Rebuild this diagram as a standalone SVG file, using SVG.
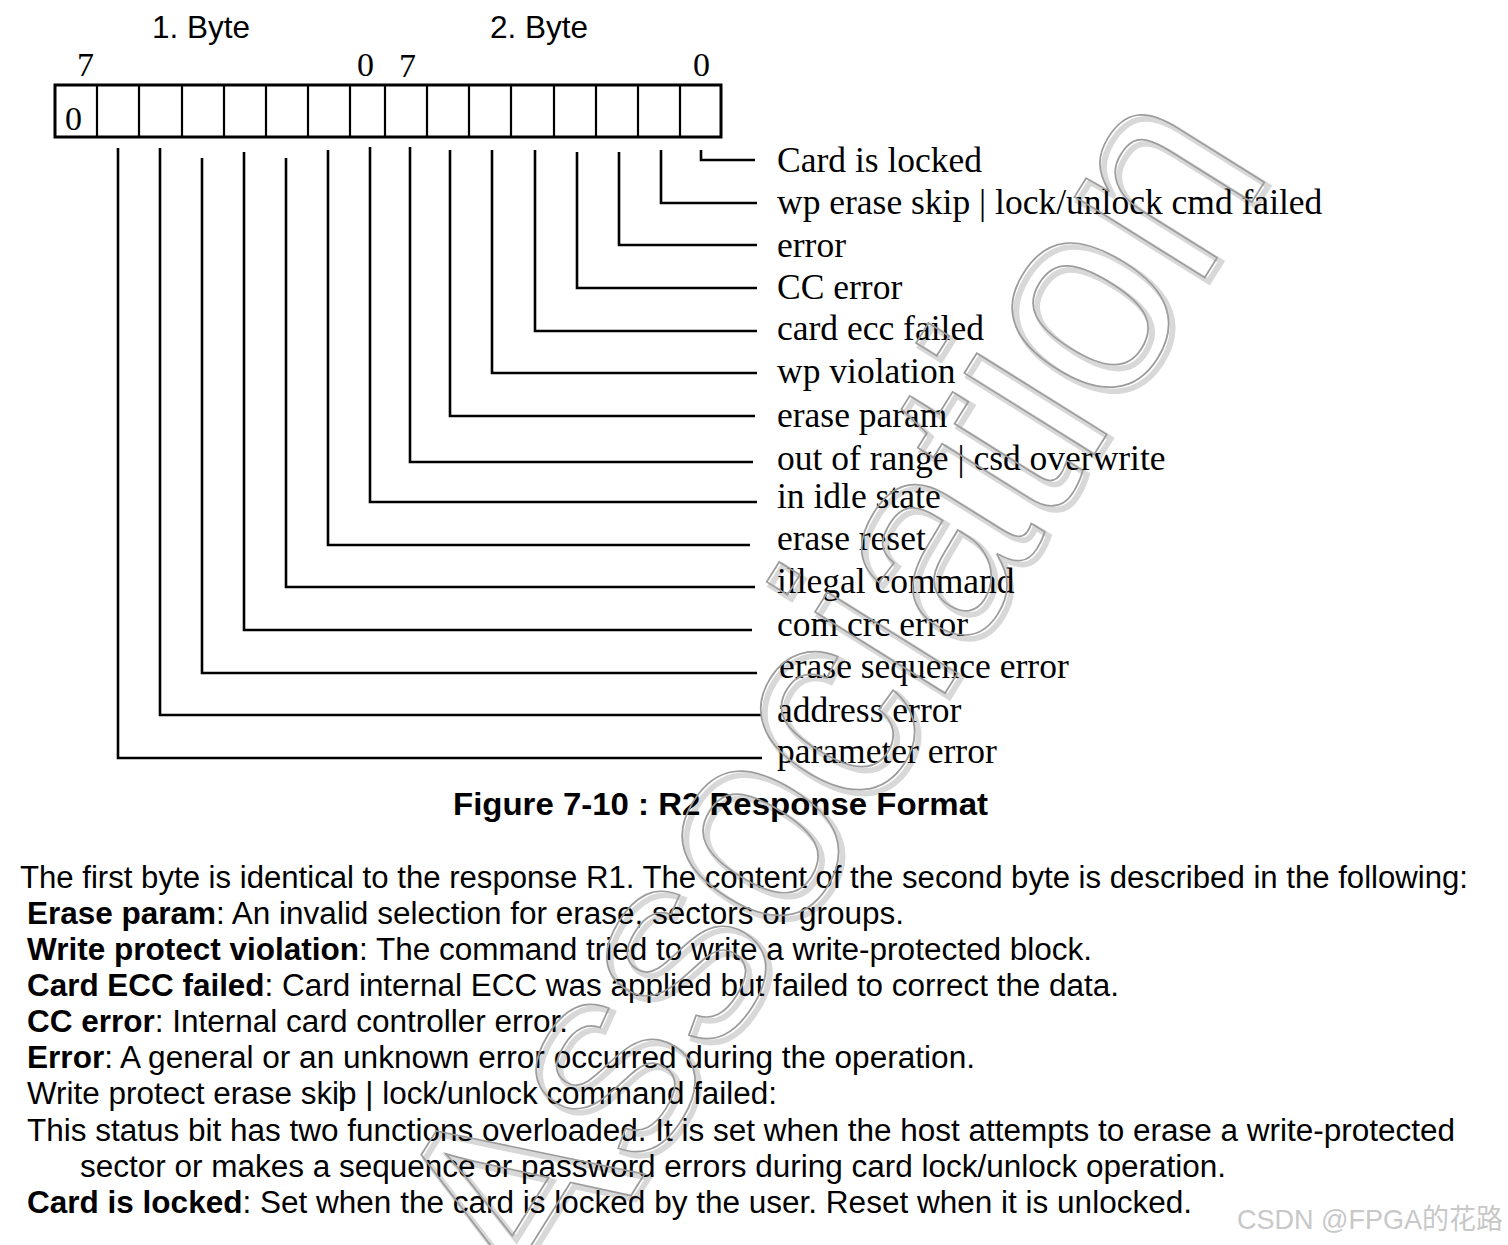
<svg xmlns="http://www.w3.org/2000/svg" width="1508" height="1245" viewBox="0 0 1508 1245">
<style>
.hdr{font-family:"Liberation Sans",Arial,sans-serif;font-size:31.5px;fill:#000}
.bit{font-family:"Liberation Serif","Times New Roman",serif;font-size:34px;fill:#000}
.lbl{font-family:"Liberation Serif","Times New Roman",serif;font-size:35.5px;fill:#000}
.body{font-family:"Liberation Sans",Arial,sans-serif;font-size:31px;fill:#000}
.b{font-weight:bold}
.title{font-family:"Liberation Sans",Arial,sans-serif;font-size:32px;font-weight:bold;fill:#000}
.conn{stroke:#000;stroke-width:2.6;fill:none}
.cell{stroke:#000;stroke-width:2.2}
.wm{font-family:"Liberation Sans",Arial,sans-serif;font-size:290px;fill:none}
</style>
<rect width="1508" height="1245" fill="#fff"/>

<g id="watermark-shadow">
<text class="wm" text-anchor="middle" transform="translate(916,750) rotate(-58) scale(0.92,1)" stroke="#d8d8d8" stroke-width="6">Association</text>
</g>

<g id="header">
<text class="hdr" x="152" y="38">1. Byte</text>
<text class="hdr" x="490" y="38">2. Byte</text>
<text class="bit" x="77" y="76">7</text>
<text class="bit" x="357" y="76">0</text>
<text class="bit" x="399" y="77">7</text>
<text class="bit" x="693" y="76">0</text>
</g>

<g id="register">
<rect x="55" y="85" width="666" height="52" fill="#fff" stroke="#000" stroke-width="3"/>
<path class="cell" d="M97 85V137M139 85V137M182 85V137M224 85V137M266 85V137M308 85V137M350 85V137M385 85V137M427 85V137M469 85V137M511 85V137M554 85V137M596 85V137M638 85V137M680 85V137"/>
<text class="bit" x="65" y="130">0</text>
</g>

<g id="connectors">
<path class="conn" d="M701 150V160H755"/>
<path class="conn" d="M661 150V203H757"/>
<path class="conn" d="M619 152V245H757"/>
<path class="conn" d="M577 152V288H757"/>
<path class="conn" d="M535 150V331H757"/>
<path class="conn" d="M492 150V373H757"/>
<path class="conn" d="M450 150V416H755"/>
<path class="conn" d="M410 147V462H753"/>
<path class="conn" d="M370 147V502H757"/>
<path class="conn" d="M328 150V545H750"/>
<path class="conn" d="M286 158V587H755"/>
<path class="conn" d="M244 152V630H752"/>
<path class="conn" d="M202 158V673H757"/>
<path class="conn" d="M160 148V715H762"/>
<path class="conn" d="M118 148V758H762"/>
</g>

<g id="labels">
<text class="lbl" x="777" y="172">Card is locked</text>
<text class="lbl" x="777" y="214">wp erase skip | lock/unlock cmd failed</text>
<text class="lbl" x="777" y="257">error</text>
<text class="lbl" x="777" y="299">CC error</text>
<text class="lbl" x="777" y="340">card ecc failed</text>
<text class="lbl" x="777" y="383">wp violation</text>
<text class="lbl" x="777" y="427">erase param</text>
<text class="lbl" x="777" y="470">out of range | csd overwrite</text>
<text class="lbl" x="777" y="508">in idle state</text>
<text class="lbl" x="777" y="550">erase reset</text>
<text class="lbl" x="777" y="593">illegal command</text>
<text class="lbl" x="777" y="636">com crc error</text>
<text class="lbl" x="779" y="678">erase sequence error</text>
<text class="lbl" x="777" y="722">address error</text>
<text class="lbl" x="777" y="763">parameter error</text>
</g>

<g id="caption">
<text class="title" x="453" y="815" textLength="535" lengthAdjust="spacingAndGlyphs">Figure 7-10 : R2 Response Format</text>
</g>

<g id="description">
<text class="body" x="20" y="888" textLength="1448" lengthAdjust="spacingAndGlyphs">The first byte is identical to the response R1. The content of the second byte is described in the following:</text>
<text class="body" x="27" y="924" textLength="877" lengthAdjust="spacingAndGlyphs"><tspan class="b">Erase param</tspan>: An invalid selection for erase, sectors or groups.</text>
<text class="body" x="27" y="960" textLength="1065" lengthAdjust="spacingAndGlyphs"><tspan class="b">Write protect violation</tspan>: The command tried to write a write-protected block.</text>
<text class="body" x="27" y="996" textLength="1092" lengthAdjust="spacingAndGlyphs"><tspan class="b">Card ECC failed</tspan>: Card internal ECC was applied but failed to correct the data.</text>
<text class="body" x="27" y="1032" textLength="541" lengthAdjust="spacingAndGlyphs"><tspan class="b">CC error</tspan>: Internal card controller error.</text>
<text class="body" x="27" y="1068" textLength="948" lengthAdjust="spacingAndGlyphs"><tspan class="b">Error</tspan>: A general or an unknown error occurred during the operation.</text>
<text class="body" x="27" y="1104" textLength="750" lengthAdjust="spacingAndGlyphs">Write protect erase skip | lock/unlock command failed:</text>
<line x1="341" y1="1081" x2="341" y2="1111" stroke="#000" stroke-width="1.5"/>
<text class="body" x="27" y="1141" textLength="1428" lengthAdjust="spacingAndGlyphs">This status bit has two functions overloaded. It is set when the host attempts to erase a write-protected</text>
<text class="body" x="80" y="1177" textLength="1146" lengthAdjust="spacingAndGlyphs">sector or makes a sequence or password errors during card lock/unlock operation.</text>
<text class="body" x="27" y="1213" textLength="1165" lengthAdjust="spacingAndGlyphs"><tspan class="b">Card is locked</tspan>: Set when the card is locked by the user. Reset when it is unlocked.</text>
</g>

<g id="watermark">
<text class="wm" text-anchor="middle" transform="translate(912,746) rotate(-58) scale(0.92,1)" stroke="#9c9c9c" stroke-width="1.8">Association</text>
<text x="1237" y="1229" textLength="266" lengthAdjust="spacingAndGlyphs" style="font-family:'Liberation Sans','Noto Sans CJK SC',sans-serif;font-size:28px;fill:#c8c8c8">CSDN @FPGA的花路</text>
</g>
</svg>
